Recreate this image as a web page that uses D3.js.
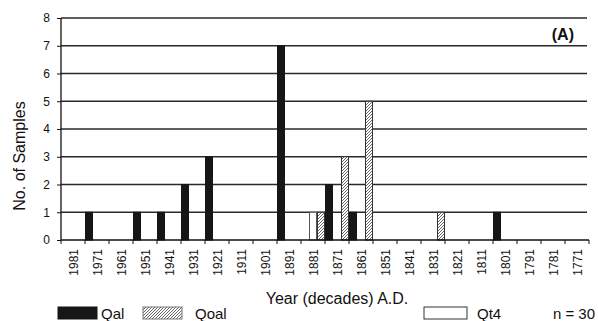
<!DOCTYPE html>
<html><head><meta charset="utf-8">
<script src="https://cdn.jsdelivr.net/npm/d3@7"></script>
<style>body{margin:0;background:#fff}svg{display:block}</style>
</head><body>
<svg id="c" width="598" height="321"></svg>
<script>
const decades = ["1981","1971","1961","1951","1941","1931","1921","1911","1901","1891","1881","1871","1861","1851","1841","1831","1821","1811","1801","1791","1781","1771"];
const qal  = [0,1,0,1,1,2,3,0,0,7,0,2,1,0,0,0,0,0,1,0,0,0];
const qt4  = [0,0,0,0,0,0,0,0,0,0,1,0,0,0,0,0,0,0,0,0,0,0];
const qoal = [0,0,0,0,0,0,0,0,0,0,1,3,5,0,0,1,0,0,0,0,0,0];
const yTicks = [0,1,2,3,4,5,6,7,8];
const seriesOrder = ["Qal","Qt4","Qoal"];

const svg = d3.select("#c");
const font = "Liberation Sans, Arial, sans-serif";
const L = 61, R = 589, T = 18, B = 240;

const defs = svg.append("defs");
const pat = defs.append("pattern").attr("id","hatch").attr("patternUnits","userSpaceOnUse")
  .attr("width",3).attr("height",3);
pat.append("rect").attr("width",3).attr("height",3).attr("fill","#fff");
pat.append("path").attr("d","M-1,1 L1,-1 M0,3 L3,0 M2,4 L4,2").attr("stroke","#555").attr("stroke-width",0.9);

const x = d3.scaleBand().domain(decades).range([L,R]).padding(0);
const xs = d3.scaleBand().domain(seriesOrder).range([0,x.bandwidth()]).padding(0);
const y = d3.scaleLinear().domain([0,8]).range([B,T]);

// gridlines
svg.append("g").selectAll("line").data(yTicks.filter(d=>d>0)).join("line")
  .attr("x1",L).attr("x2",R-2).attr("y1",d=>y(d)).attr("y2",d=>y(d))
  .attr("stroke","#2a2a2a").attr("stroke-width",1.3);

// bars
const fills = {Qal:"#161616", Qt4:"#fff", Qoal:"url(#hatch)"};
const strokes = {Qal:"#161616", Qt4:"#555", Qoal:"#333"};
const data = {Qal:qal, Qt4:qt4, Qoal:qoal};
seriesOrder.forEach(s=>{
  svg.append("g").selectAll("rect").data(decades.map((d,i)=>({d,v:data[s][i]})).filter(e=>e.v>0)).join("rect")
    .attr("x",e=>x(e.d)+xs(s)+0.5).attr("width",xs.bandwidth()-1)
    .attr("y",e=>y(e.v)).attr("height",e=>B-y(e.v))
    .attr("fill",fills[s]).attr("stroke",strokes[s]).attr("stroke-width",1);
});

// y axis
const ya = d3.axisLeft(y).tickValues(yTicks).tickSize(4).tickPadding(7).tickFormat(d3.format("d"));
const gy = svg.append("g").attr("transform",`translate(${L},0)`).call(ya);
gy.select(".domain").attr("stroke","#111").attr("stroke-width",1.3).attr("d",`M0,${T}V${B}`);
gy.selectAll(".tick line").attr("stroke","#111");
gy.selectAll("text").attr("font-family",font).attr("font-size",12).attr("fill","#111");

// x axis
const gx = svg.append("g").attr("transform",`translate(0,${B})`);
gx.append("line").attr("x1",L).attr("x2",R).attr("y1",0).attr("y2",0).attr("stroke","#111").attr("stroke-width",1.3);
gx.selectAll("line.t").data(decades.concat(["end"])).join("line").attr("class","t")
  .attr("x1",(d,i)=>L+i*x.bandwidth()).attr("x2",(d,i)=>L+i*x.bandwidth())
  .attr("y1",0).attr("y2",4).attr("stroke","#111");
gx.selectAll("text").data(decades).join("text")
  .attr("transform",d=>`translate(${x(d)+x.bandwidth()/2+1},9) rotate(-90)`)
  .attr("dy","0.35em").attr("text-anchor","end")
  .attr("font-family",font).attr("font-size",12).attr("fill","#111").text(d=>d);

// titles
svg.append("text").attr("transform","translate(25,156) rotate(-90)").attr("text-anchor","middle")
  .attr("font-family",font).attr("font-size",16).attr("fill","#111").text("No. of Samples");
svg.append("text").attr("x",337).attr("y",304).attr("text-anchor","middle")
  .attr("font-family",font).attr("font-size",16).attr("fill","#111").text("Year (decades) A.D.");
svg.append("text").attr("x",574).attr("y",40).attr("text-anchor","end")
  .attr("font-family",font).attr("font-size",16).attr("font-weight","bold").attr("fill","#111").text("(A)");

// legend
const leg = [
  {name:"Qal", x:58, w:39, fill:"#161616", stroke:"#161616", tx:101},
  {name:"Qoal", x:143, w:39, fill:"url(#hatch)", stroke:"#777", tx:195},
  {name:"Qt4", x:424, w:43, fill:"#fff", stroke:"#333", tx:477}
];
const lg = svg.append("g");
lg.selectAll("rect").data(leg).join("rect")
  .attr("x",d=>d.x).attr("y",307).attr("width",d=>d.w).attr("height",12)
  .attr("fill",d=>d.fill).attr("stroke",d=>d.stroke);
lg.selectAll("text").data(leg).join("text")
  .attr("x",d=>d.tx).attr("y",319).attr("font-family",font).attr("font-size",15).attr("fill","#111").text(d=>d.name);
svg.append("text").attr("x",595).attr("y",319).attr("text-anchor","end")
  .attr("font-family",font).attr("font-size",15).attr("fill","#111").text("n = 30");
</script>
</body></html>
